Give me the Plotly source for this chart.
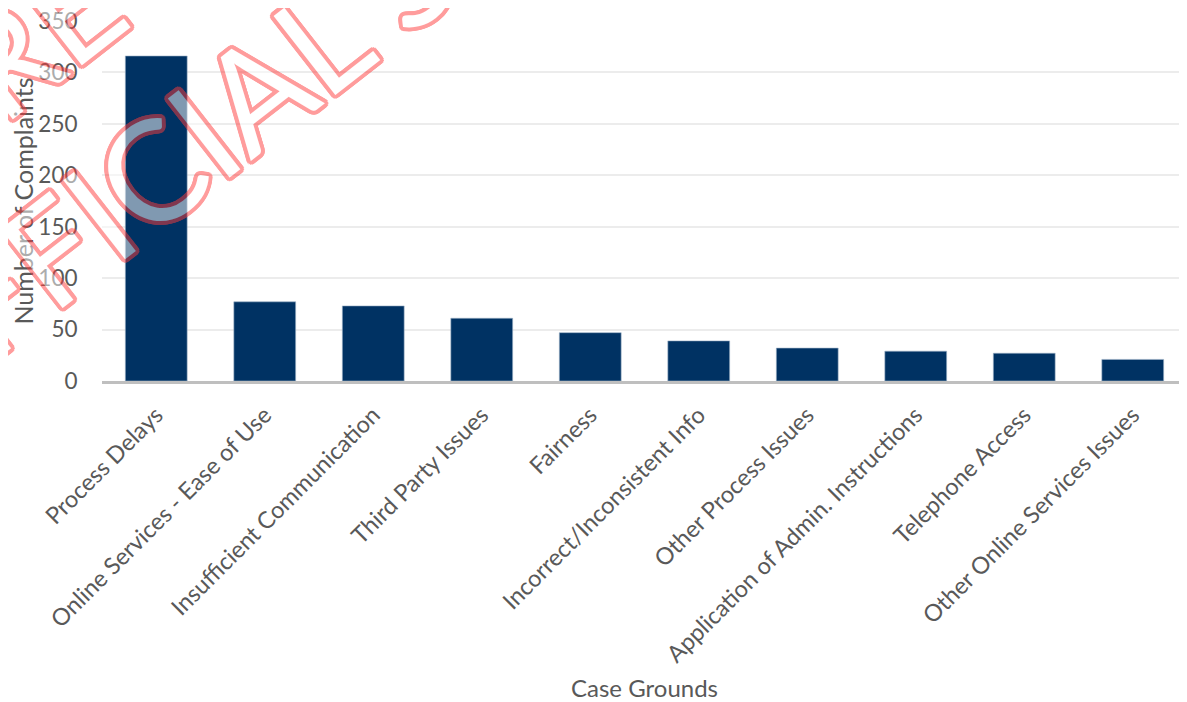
import math
import plotly.graph_objects as go

categories = [
    "Process Delays",
    "Online Services - Ease of Use",
    "Insufficient Communication",
    "Third Party Issues",
    "Fairness",
    "Incorrect/Inconsistent Info",
    "Other Process Issues",
    "Application of Admin. Instructions",
    "Telephone Access",
    "Other Online Services Issues",
]
complaints = [316, 77, 73, 61, 47, 39, 32, 29, 27, 21]
y_ticks = [0, 50, 100, 150, 200, 250, 300, 350]

FONT = "Lato"
TXT = "#595959"
BAR = "#003263"

fig = go.Figure(
    go.Bar(
        x=categories,
        y=complaints,
        marker=dict(color=BAR, line=dict(color="#9fb3c8", width=0.6)),
    )
)

# outline effect for the watermark text (ring of text shadows)
ring = []
for k in range(16):
    a = 2 * math.pi * k / 16
    ring.append(f"{4 * math.cos(a):.2f}px {4 * math.sin(a):.2f}px 0 #ff3c3c")
outline = ", ".join(ring)
wm_font = dict(family=FONT, size=140, color="white", shadow=outline)

fig.update_layout(
    width=1179,
    height=694,
    margin=dict(l=94, r=0, t=13, b=321),
    paper_bgcolor="white",
    plot_bgcolor="white",
    bargap=0.43,
    showlegend=False,
    font=dict(family=FONT, color=TXT),
    xaxis=dict(
        tickangle=-45,
        tickfont=dict(size=23.5, color=TXT),
        showline=True,
        linecolor="#bfbfbf",
        linewidth=3,
        ticks="outside",
        ticklen=8,
        tickcolor="rgba(0,0,0,0)",
        automargin=False,
        title=dict(text="Case Grounds", font=dict(size=24, color=TXT), standoff=33),
    ),
    yaxis=dict(
        range=[0, 350],
        tickvals=y_ticks,
        tickfont=dict(size=22.5, color=TXT),
        ticklabeloverflow="allow",
        showgrid=True,
        gridcolor="#ececec",
        gridwidth=2,
        zeroline=False,
        ticks="outside",
        ticklen=19,
        tickcolor="rgba(0,0,0,0)",
        automargin=False,
        title=dict(text="Number of Complaints", font=dict(size=25, color=TXT), standoff=2),
    ),
    annotations=[
        dict(
            text="OFFICIAL SENSITIVE",
            xref="paper", yref="paper",
            x=0.2627, y=1.098,
            xanchor="center", yanchor="middle",
            showarrow=False,
            textangle=-38,
            font=wm_font,
            opacity=0.5,
        ),
        dict(
            text="PRE-RELEASE",
            xref="paper", yref="paper",
            x=0.1357, y=1.431,
            xanchor="center", yanchor="middle",
            showarrow=False,
            textangle=-38,
            font=wm_font,
            opacity=0.5,
        ),
    ],
)

fig.write_html("out.html")
